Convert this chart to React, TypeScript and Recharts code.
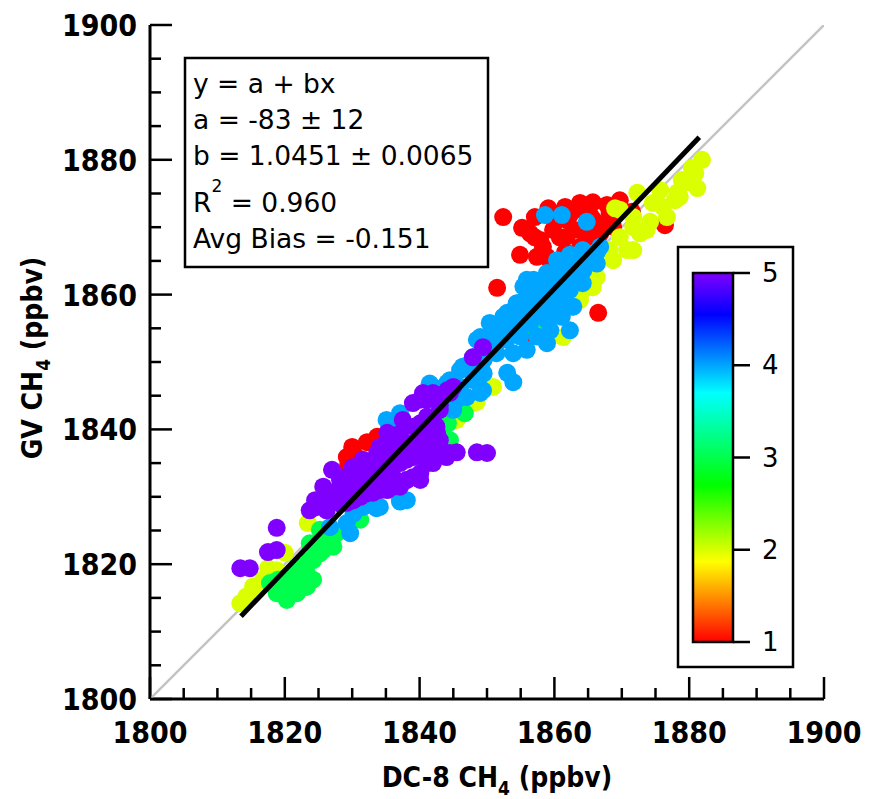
import React from 'react';
import { ScatterChart, Scatter, XAxis, YAxis } from 'recharts';

// axis ticks (ppbv), minor every 5, labelled every 20
const axisTicks = [
  1800, 1805, 1810, 1815, 1820, 1825, 1830, 1835, 1840, 1845, 1850,
  1855, 1860, 1865, 1870, 1875, 1880, 1885, 1890, 1895, 1900,
];
const colorTicks = [1, 2, 3, 4, 5];

// points by colour class (DC-8 CH4, GV CH4)
const redPts = [
  { x: 1852.4, y: 1871.5 }, { x: 1855.2, y: 1869.9 }, { x: 1857.1, y: 1871.5 },
  { x: 1859.1, y: 1872.8 }, { x: 1861.6, y: 1873.0 }, { x: 1863.8, y: 1873.6 },
  { x: 1865.7, y: 1873.7 }, { x: 1867.8, y: 1873.3 }, { x: 1869.7, y: 1874.0 },
  { x: 1871.5, y: 1872.3 }, { x: 1876.4, y: 1870.3 }, { x: 1854.9, y: 1865.9 },
  { x: 1851.5, y: 1861.0 }, { x: 1866.5, y: 1857.3 }, { x: 1858.3, y: 1867.1 },
  { x: 1860.8, y: 1868.5 }, { x: 1862.8, y: 1869.6 }, { x: 1864.8, y: 1868.5 },
  { x: 1866.3, y: 1870.6 }, { x: 1858.9, y: 1865.6 }, { x: 1863.8, y: 1867.1 },
  { x: 1860.1, y: 1870.8 }, { x: 1862.3, y: 1871.8 }, { x: 1865.3, y: 1871.8 },
  { x: 1868.2, y: 1870.8 }, { x: 1857.1, y: 1868.5 }, { x: 1861.6, y: 1866.3 },
  { x: 1856.5, y: 1853.9 }, { x: 1830.0, y: 1837.4 }, { x: 1832.2, y: 1838.1 },
  { x: 1829.2, y: 1835.9 }, { x: 1829.4, y: 1834.7 }, { x: 1833.7, y: 1838.9 },
  { x: 1830.4, y: 1836.2 }, { x: 1857.9, y: 1868.1 }, { x: 1859.8, y: 1869.6 },
  { x: 1861.8, y: 1868.6 }, { x: 1863.8, y: 1869.6 }, { x: 1865.8, y: 1871.1 },
  { x: 1868.2, y: 1872.1 }, { x: 1857.4, y: 1865.6 }, { x: 1859.3, y: 1865.1 },
  { x: 1866.8, y: 1869.1 }, { x: 1864.3, y: 1872.5 }, { x: 1861.8, y: 1871.1 },
  { x: 1856.4, y: 1869.1 }, { x: 1868.7, y: 1870.1 },
];

const yellowPts = [
  { x: 1881.9, y: 1880.0 }, { x: 1880.4, y: 1878.8 }, { x: 1878.9, y: 1877.0 },
  { x: 1880.4, y: 1876.6 }, { x: 1881.2, y: 1875.8 }, { x: 1872.3, y: 1875.1 },
  { x: 1869.0, y: 1872.8 }, { x: 1874.6, y: 1873.6 }, { x: 1877.9, y: 1874.0 },
  { x: 1876.7, y: 1871.5 }, { x: 1874.2, y: 1870.8 }, { x: 1871.7, y: 1870.0 },
  { x: 1869.7, y: 1868.5 }, { x: 1868.2, y: 1866.6 }, { x: 1870.8, y: 1866.6 },
  { x: 1872.7, y: 1869.1 }, { x: 1876.1, y: 1873.0 }, { x: 1879.7, y: 1876.7 },
  { x: 1878.3, y: 1875.2 }, { x: 1880.9, y: 1878.0 }, { x: 1869.7, y: 1872.6 },
  { x: 1871.7, y: 1871.5 }, { x: 1873.7, y: 1869.6 }, { x: 1868.7, y: 1865.1 },
  { x: 1866.3, y: 1862.6 }, { x: 1864.2, y: 1860.7 }, { x: 1871.7, y: 1866.6 },
  { x: 1878.6, y: 1874.5 }, { x: 1875.7, y: 1875.5 }, { x: 1865.7, y: 1861.1 },
  { x: 1863.8, y: 1859.2 }, { x: 1861.3, y: 1853.7 }, { x: 1850.9, y: 1846.3 },
  { x: 1847.9, y: 1843.9 }, { x: 1823.4, y: 1826.1 }, { x: 1818.8, y: 1819.1 },
  { x: 1814.1, y: 1814.7 }, { x: 1815.9, y: 1816.2 }, { x: 1820.0, y: 1821.7 },
  { x: 1845.5, y: 1841.4 }, { x: 1848.5, y: 1844.1 }, { x: 1817.5, y: 1819.4 },
  { x: 1813.4, y: 1814.2 }, { x: 1815.3, y: 1816.7 }, { x: 1816.8, y: 1817.7 },
  { x: 1817.8, y: 1819.1 }, { x: 1814.3, y: 1815.2 },
];

const greenPts = [
  { x: 1819.3, y: 1816.6 }, { x: 1821.2, y: 1815.7 }, { x: 1822.7, y: 1817.7 },
  { x: 1821.8, y: 1819.6 }, { x: 1824.2, y: 1820.6 }, { x: 1825.7, y: 1822.1 },
  { x: 1826.7, y: 1823.6 }, { x: 1825.2, y: 1825.1 }, { x: 1823.7, y: 1823.1 },
  { x: 1820.3, y: 1818.1 }, { x: 1823.0, y: 1816.6 }, { x: 1819.0, y: 1817.7 },
  { x: 1827.2, y: 1822.6 }, { x: 1831.2, y: 1826.6 }, { x: 1846.7, y: 1842.4 },
  { x: 1844.2, y: 1840.9 }, { x: 1844.5, y: 1838.4 }, { x: 1862.6, y: 1858.2 },
  { x: 1857.1, y: 1855.0 }, { x: 1855.3, y: 1854.7 }, { x: 1817.8, y: 1817.2 },
  { x: 1830.1, y: 1826.6 }, { x: 1818.8, y: 1815.7 }, { x: 1820.3, y: 1816.7 },
  { x: 1821.8, y: 1817.7 }, { x: 1823.3, y: 1818.6 }, { x: 1822.3, y: 1819.6 },
  { x: 1823.7, y: 1820.6 }, { x: 1825.2, y: 1821.6 }, { x: 1824.7, y: 1823.1 },
  { x: 1826.2, y: 1824.1 }, { x: 1827.7, y: 1824.6 }, { x: 1821.8, y: 1815.7 },
  { x: 1820.3, y: 1814.7 }, { x: 1823.3, y: 1816.7 }, { x: 1824.2, y: 1817.7 },
];

const bluePts = [
  { x: 1858.6, y: 1871.8 }, { x: 1861.1, y: 1871.8 }, { x: 1864.8, y: 1870.8 },
  { x: 1860.4, y: 1865.1 }, { x: 1862.3, y: 1865.9 }, { x: 1864.2, y: 1866.6 },
  { x: 1866.3, y: 1866.3 }, { x: 1855.9, y: 1862.2 }, { x: 1857.4, y: 1861.1 },
  { x: 1859.8, y: 1862.2 }, { x: 1861.9, y: 1861.1 }, { x: 1864.2, y: 1861.7 },
  { x: 1858.9, y: 1859.2 }, { x: 1860.8, y: 1859.2 }, { x: 1862.8, y: 1858.2 },
  { x: 1854.9, y: 1858.8 }, { x: 1853.0, y: 1857.3 }, { x: 1850.4, y: 1855.8 },
  { x: 1853.9, y: 1855.8 }, { x: 1852.4, y: 1854.7 }, { x: 1858.9, y: 1852.8 },
  { x: 1855.9, y: 1851.8 }, { x: 1853.9, y: 1851.3 }, { x: 1849.0, y: 1853.7 },
  { x: 1846.4, y: 1849.3 }, { x: 1844.5, y: 1847.3 }, { x: 1842.0, y: 1846.3 },
  { x: 1845.5, y: 1844.4 }, { x: 1849.4, y: 1845.8 }, { x: 1853.0, y: 1848.4 },
  { x: 1853.9, y: 1847.0 }, { x: 1862.3, y: 1854.7 }, { x: 1861.1, y: 1856.7 },
  { x: 1850.0, y: 1851.8 }, { x: 1847.9, y: 1850.7 }, { x: 1858.9, y: 1856.2 },
  { x: 1866.8, y: 1867.1 }, { x: 1864.8, y: 1865.9 }, { x: 1862.8, y: 1864.7 },
  { x: 1857.9, y: 1860.7 }, { x: 1848.5, y: 1853.3 }, { x: 1846.0, y: 1848.8 },
  { x: 1844.1, y: 1846.9 }, { x: 1847.0, y: 1844.8 }, { x: 1845.0, y: 1842.9 },
  { x: 1835.6, y: 1840.4 }, { x: 1836.6, y: 1839.2 }, { x: 1829.2, y: 1826.1 },
  { x: 1829.7, y: 1824.6 }, { x: 1826.7, y: 1825.5 }, { x: 1831.6, y: 1828.5 },
  { x: 1834.1, y: 1828.5 }, { x: 1837.1, y: 1829.5 }, { x: 1849.0, y: 1845.4 },
  { x: 1838.1, y: 1829.5 }, { x: 1855.4, y: 1861.2 }, { x: 1856.9, y: 1862.2 },
  { x: 1858.9, y: 1863.2 }, { x: 1860.8, y: 1864.1 }, { x: 1862.8, y: 1865.1 },
  { x: 1864.8, y: 1866.1 }, { x: 1854.4, y: 1858.7 }, { x: 1856.4, y: 1859.7 },
  { x: 1858.4, y: 1860.7 }, { x: 1860.3, y: 1861.7 }, { x: 1862.3, y: 1862.7 },
  { x: 1864.3, y: 1863.6 }, { x: 1866.3, y: 1864.6 }, { x: 1852.4, y: 1856.7 },
  { x: 1854.4, y: 1857.2 }, { x: 1856.4, y: 1857.7 }, { x: 1858.4, y: 1858.7 },
  { x: 1860.3, y: 1859.7 }, { x: 1862.3, y: 1860.7 }, { x: 1850.5, y: 1854.2 },
  { x: 1852.4, y: 1854.7 }, { x: 1854.4, y: 1855.7 }, { x: 1856.4, y: 1855.7 },
  { x: 1858.4, y: 1856.7 }, { x: 1860.3, y: 1857.7 }, { x: 1851.0, y: 1852.8 },
  { x: 1852.9, y: 1853.3 }, { x: 1854.9, y: 1853.8 }, { x: 1857.4, y: 1853.8 },
  { x: 1859.4, y: 1854.7 }, { x: 1847.5, y: 1849.8 }, { x: 1849.5, y: 1850.3 },
  { x: 1851.4, y: 1851.3 }, { x: 1844.0, y: 1845.8 }, { x: 1846.0, y: 1846.3 },
  { x: 1848.0, y: 1847.3 }, { x: 1849.5, y: 1848.3 }, { x: 1835.1, y: 1841.4 },
  { x: 1837.1, y: 1842.4 }, { x: 1841.5, y: 1846.8 }, { x: 1845.0, y: 1846.3 },
  { x: 1830.2, y: 1827.5 }, { x: 1833.6, y: 1828.3 }, { x: 1837.1, y: 1829.3 },
];

const purplePts = [
  { x: 1813.4, y: 1819.4 }, { x: 1814.8, y: 1819.4 }, { x: 1817.5, y: 1821.8 },
  { x: 1818.8, y: 1822.1 }, { x: 1818.8, y: 1825.4 }, { x: 1827.0, y: 1834.0 },
  { x: 1824.8, y: 1828.5 }, { x: 1826.3, y: 1830.6 }, { x: 1828.2, y: 1831.5 },
  { x: 1830.1, y: 1832.5 }, { x: 1832.2, y: 1834.0 }, { x: 1834.1, y: 1835.0 },
  { x: 1836.1, y: 1835.9 }, { x: 1838.1, y: 1837.4 }, { x: 1840.1, y: 1838.4 },
  { x: 1842.0, y: 1839.5 }, { x: 1843.0, y: 1837.4 }, { x: 1841.1, y: 1835.0 },
  { x: 1839.0, y: 1832.9 }, { x: 1837.1, y: 1831.5 }, { x: 1835.2, y: 1831.0 },
  { x: 1833.1, y: 1830.6 }, { x: 1831.2, y: 1830.0 }, { x: 1829.2, y: 1829.1 },
  { x: 1840.1, y: 1832.5 }, { x: 1838.1, y: 1832.5 }, { x: 1842.0, y: 1836.5 },
  { x: 1844.5, y: 1836.5 }, { x: 1848.5, y: 1836.6 }, { x: 1850.0, y: 1836.5 },
  { x: 1845.5, y: 1836.6 }, { x: 1839.0, y: 1843.9 }, { x: 1841.1, y: 1844.4 },
  { x: 1844.1, y: 1845.8 }, { x: 1845.0, y: 1846.3 }, { x: 1837.5, y: 1841.4 },
  { x: 1835.2, y: 1839.5 }, { x: 1840.1, y: 1840.9 }, { x: 1842.0, y: 1841.4 },
  { x: 1842.6, y: 1839.5 }, { x: 1836.1, y: 1837.4 }, { x: 1833.7, y: 1836.5 },
  { x: 1831.6, y: 1835.5 }, { x: 1830.1, y: 1834.4 }, { x: 1828.2, y: 1832.9 },
  { x: 1825.7, y: 1831.5 }, { x: 1824.5, y: 1829.5 }, { x: 1827.2, y: 1830.6 },
  { x: 1833.7, y: 1832.5 }, { x: 1836.1, y: 1832.9 }, { x: 1838.1, y: 1835.5 },
  { x: 1840.1, y: 1836.5 }, { x: 1849.4, y: 1852.2 }, { x: 1847.9, y: 1850.7 },
  { x: 1840.5, y: 1845.4 }, { x: 1823.7, y: 1828.0 }, { x: 1843.0, y: 1843.6 },
  { x: 1835.6, y: 1834.0 }, { x: 1825.2, y: 1829.0 }, { x: 1827.2, y: 1830.0 },
  { x: 1829.2, y: 1831.0 }, { x: 1831.2, y: 1832.0 }, { x: 1833.1, y: 1833.0 },
  { x: 1835.1, y: 1834.0 }, { x: 1837.1, y: 1835.0 }, { x: 1839.1, y: 1835.9 },
  { x: 1841.1, y: 1837.4 }, { x: 1843.0, y: 1838.4 }, { x: 1826.2, y: 1828.0 },
  { x: 1828.2, y: 1829.0 }, { x: 1830.2, y: 1829.5 }, { x: 1832.2, y: 1830.5 },
  { x: 1834.1, y: 1831.0 }, { x: 1836.1, y: 1831.5 }, { x: 1838.1, y: 1832.5 },
  { x: 1840.1, y: 1833.5 }, { x: 1842.0, y: 1835.0 }, { x: 1844.0, y: 1835.9 },
  { x: 1832.6, y: 1835.0 }, { x: 1834.6, y: 1835.9 }, { x: 1836.6, y: 1836.9 },
  { x: 1838.6, y: 1837.9 }, { x: 1840.6, y: 1838.9 }, { x: 1842.5, y: 1840.4 },
  { x: 1835.1, y: 1837.9 }, { x: 1837.1, y: 1839.4 }, { x: 1839.1, y: 1840.4 },
  { x: 1841.1, y: 1841.9 }, { x: 1843.0, y: 1842.9 }, { x: 1840.1, y: 1844.4 },
  { x: 1842.0, y: 1845.4 }, { x: 1844.5, y: 1845.4 }, { x: 1830.2, y: 1833.0 },
  { x: 1828.2, y: 1832.5 }, { x: 1834.1, y: 1837.4 }, { x: 1831.2, y: 1834.0 },
];

// 1:1 reference and linear fit y = a + bx
const oneToOne = [{ x: 1800, y: 1800 }, { x: 1900, y: 1900 }];
const fitA = -83;
const fitB = 1.0451;
const fitXRange = [1813.5, 1881.5];
const fitLine = fitXRange.map((x) => ({ x, y: fitA + fitB * x }));

const W = 861;
const H = 791;
const TICK_FONT = "'DejaVu Sans Condensed', 'DejaVu Sans', sans-serif";
const TEXT_FONT = "'DejaVu Sans', sans-serif";

const isMajor = (v: number) => v % 20 === 0;

function BottomTick(props: any) {
  const { x, y, payload } = props;
  const major = isMajor(payload.value);
  return (
    <g>
      <line x1={x} y1={y} x2={x} y2={y - (major ? 22 : 11)} stroke="#000" strokeWidth={2.5} />
      {major && (
        <text x={x} y={y + 44} textAnchor="middle" fontSize={30} fontWeight="bold" fontFamily={TICK_FONT} fill="#000">
          {payload.value}
        </text>
      )}
    </g>
  );
}

function LeftTick(props: any) {
  const { x, y, payload } = props;
  const major = isMajor(payload.value);
  return (
    <g>
      <line x1={x} y1={y} x2={x + (major ? 22 : 11)} y2={y} stroke="#000" strokeWidth={2.5} />
      {major && (
        <text x={x - 13} y={y + 11} textAnchor="end" fontSize={30} fontWeight="bold" fontFamily={TICK_FONT} fill="#000">
          {payload.value}
        </text>
      )}
    </g>
  );
}

function TopTick(props: any) {
  const { x, y, payload } = props;
  return <line x1={x} y1={y} x2={x} y2={y + (isMajor(payload.value) ? 22 : 11)} stroke="#000" strokeWidth={2.5} />;
}

function RightTick(props: any) {
  const { x, y, payload } = props;
  return <line x1={x} y1={y} x2={x - (isMajor(payload.value) ? 22 : 11)} y2={y} stroke="#000" strokeWidth={2.5} />;
}

const dot = (color: string) => (props: any) => <circle cx={props.cx} cy={props.cy} r={9} fill={color} />;
const noDot = () => <g />;

function Overlay() {
  // colour bar geometry (chart px)
  const barX = 685;
  const barY = 265;
  const barW = 40;
  const barH = 369;
  const tickY = (v: number) => barY + ((5 - v) / 4) * barH;
  return (
    <svg width={W} height={H} style={{ position: 'absolute', left: 0, top: 0, pointerEvents: 'none' }}>
      <defs>
        <linearGradient id="rainbow" x1="0" y1="0" x2="0" y2="1">
          <stop offset="0" stopColor="#8000ff" />
          <stop offset="0.1125" stopColor="#0000ff" />
          <stop offset="0.325" stopColor="#00ffff" />
          <stop offset="0.575" stopColor="#00ff00" />
          <stop offset="0.7825" stopColor="#ffff00" />
          <stop offset="1" stopColor="#ff0000" />
        </linearGradient>
      </defs>

      {/* fit statistics box */}
      <rect x={177} y={50} width={303} height={209} fill="#fff" stroke="#000" strokeWidth={2.5} />
      <g fontFamily={TEXT_FONT} fontSize={26.5} fill="#000">
        <text x={185} y={85}>y = a + bx</text>
        <text x={185} y={121}>a = -83 ± 12</text>
        <text x={185} y={157}>b = 1.0451 ± 0.0065</text>
        <text x={185} y={204}>
          R<tspan fontSize={17} dy={-20}>2</tspan>
          <tspan dy={20}> = 0.960</tspan>
        </text>
        <text x={185} y={240}>Avg Bias = -0.151</text>
      </g>

      {/* colour scale */}
      <rect x={670} y={239} width={115} height={420} fill="#fff" stroke="#000" strokeWidth={2.5} />
      <rect x={barX} y={barY} width={barW} height={barH} fill="url(#rainbow)" stroke="#000" strokeWidth={2.5} />
      {colorTicks.map((v) => (
        <g key={v}>
          <line x1={barX + barW} y1={tickY(v)} x2={barX + barW + 17} y2={tickY(v)} stroke="#000" strokeWidth={2.5} />
          <text x={754} y={tickY(v) + 9} fontFamily={TEXT_FONT} fontSize={26} fill="#000">
            {v}
          </text>
        </g>
      ))}

      {/* axis titles */}
      <text x={489} y={779} textAnchor="middle" fontFamily={TICK_FONT} fontWeight="bold" fontSize={28} fill="#000">
        DC-8 CH<tspan fontSize={19} dy={8}>4</tspan>
        <tspan dy={-8}> (ppbv)</tspan>
      </text>
      <text
        x={34}
        y={350}
        transform="rotate(-90 34 350)"
        textAnchor="middle"
        fontFamily={TICK_FONT}
        fontWeight="bold"
        fontSize={28}
        fill="#000"
      >
        GV CH<tspan fontSize={19} dy={8}>4</tspan>
        <tspan dy={-8}> (ppbv)</tspan>
      </text>
    </svg>
  );
}

export default function App() {
  const axisLine = { stroke: '#000', strokeWidth: 3 };
  const domain: [number, number] = [1800, 1900];
  return (
    <div style={{ position: 'relative', width: W, height: H, background: '#fff', fontFamily: TEXT_FONT }}>
      <ScatterChart width={W} height={H} margin={{ top: 17, right: 45, bottom: 0, left: 0 }}>
        <XAxis
          type="number"
          dataKey="x"
          domain={domain}
          ticks={axisTicks}
          interval={0}
          allowDataOverflow
          height={100}
          tickSize={0}
          tickMargin={0}
          tickLine={false}
          axisLine={axisLine}
          tick={<BottomTick />}
        />
        <XAxis
          xAxisId="top"
          orientation="top"
          type="number"
          dataKey="x"
          domain={domain}
          ticks={axisTicks}
          interval={0}
          allowDataOverflow
          height={0}
          tickSize={0}
          tickMargin={0}
          tickLine={false}
          axisLine={axisLine}
          tick={<TopTick />}
        />
        <YAxis
          type="number"
          dataKey="y"
          domain={domain}
          ticks={axisTicks}
          interval={0}
          allowDataOverflow
          width={142}
          tickSize={0}
          tickMargin={0}
          tickLine={false}
          axisLine={axisLine}
          tick={<LeftTick />}
        />
        <YAxis
          yAxisId="right"
          orientation="right"
          type="number"
          dataKey="y"
          domain={domain}
          ticks={axisTicks}
          interval={0}
          allowDataOverflow
          width={0}
          tickSize={0}
          tickMargin={0}
          tickLine={false}
          axisLine={axisLine}
          tick={<RightTick />}
        />
        <Scatter data={oneToOne} fill="none" line={{ stroke: '#c4c4c4', strokeWidth: 2.5 }} shape={noDot} isAnimationActive={false} />
        <Scatter data={redPts} fill="#ff0000" shape={dot('#ff0000')} isAnimationActive={false} />
        <Scatter data={yellowPts} fill="#d9ff00" shape={dot('#d9ff00')} isAnimationActive={false} />
        <Scatter data={greenPts} fill="#00ff4d" shape={dot('#00ff4d')} isAnimationActive={false} />
        <Scatter data={bluePts} fill="#00a6ff" shape={dot('#00a6ff')} isAnimationActive={false} />
        <Scatter data={purplePts} fill="#8000ff" shape={dot('#8000ff')} isAnimationActive={false} />
        <Scatter data={fitLine} fill="none" line={{ stroke: '#000', strokeWidth: 5 }} shape={noDot} isAnimationActive={false} />
      </ScatterChart>
      <Overlay />
    </div>
  );
}
